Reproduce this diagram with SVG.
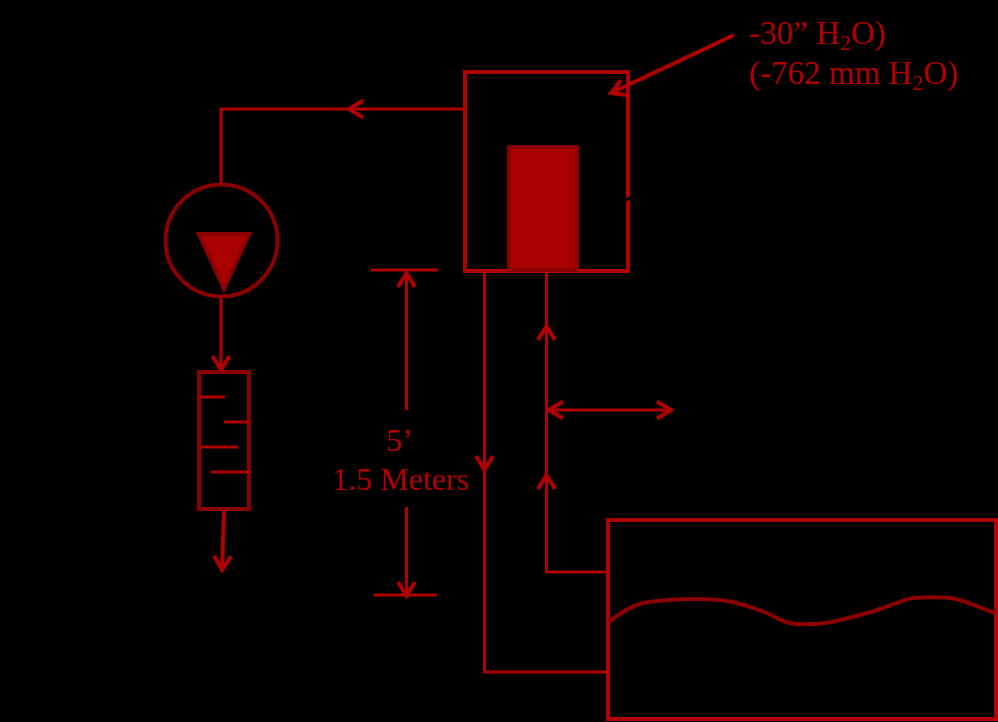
<svg xmlns="http://www.w3.org/2000/svg" width="998" height="722" viewBox="0 0 998 722">
<style>
.c{fill:none;stroke:#b00000;stroke-width:3}
.o{fill:none;stroke:#b00000;stroke-width:4}
.d{stroke:#8b0000;stroke-width:4}
.t{stroke:#b00000;stroke-width:3;fill:none}
text{font-family:"Liberation Serif","Times New Roman",serif;font-size:33px;fill:#b00000}
.m{font-size:32px}
.s{font-size:22px}
</style>
<defs>
<marker id="a" markerUnits="userSpaceOnUse" markerWidth="24" markerHeight="26" viewBox="-20 -13 24 26" refX="0" refY="0" orient="auto" overflow="visible">
<path d="M-15,-8.5 L-1,0 L-15,8.5" fill="none" stroke="#b00000" stroke-width="4"/>
</marker>
</defs>
<rect width="998" height="722" fill="#000"/>
<g id="connectors">
<path class="c" d="M464,109 L348,109" marker-end="url(#a)"/>
<path class="c" d="M348,109 L221,109 L221,184"/>
<path class="c" d="M221,298 L221,371" marker-end="url(#a)"/>
<path class="o" d="M224,510 L222,571" marker-end="url(#a)"/>
<path class="o" d="M734,35 L611,93 M621,80 L611,93 L626,95"/>
<path class="c" d="M484.500,271 L484.500,471" marker-end="url(#a)"/>
<path class="c" d="M484.500,471 L484.500,672 L608,672"/>
<path class="c" d="M608,572 L546.500,572 L546.500,474" marker-end="url(#a)"/>
<path class="c" d="M546.500,474 L546.500,325" marker-end="url(#a)"/>
<path class="c" d="M546.500,325 L546.500,271"/>
<path class="c" d="M609,410 L548,410" marker-end="url(#a)"/>
<path class="c" d="M609,410 L672,410" marker-end="url(#a)"/>
<path class="c" d="M406.500,410 L406.500,272" marker-end="url(#a)"/>
<path class="c" d="M406.500,507 L406.500,597" marker-end="url(#a)"/>
<path class="c" d="M371,270 L438,270"/>
<path class="c" d="M374,595 L437,595"/>
</g>
<g id="pump">
<circle cx="221.500" cy="240.500" r="56" fill="none" stroke="#8b0000" stroke-width="4"/>
<path d="M199,234 L249,234 L224,289 Z" fill="#aa0000" stroke="#8b0000" stroke-width="4"/>
</g>
<g id="flowmeter">
<rect x="199" y="372" width="50" height="137" fill="none" stroke="#8b0000" stroke-width="4"/>
<path class="t" d="M200,397 L225,397 M224,422 L249,422 M200,447 L238,447 M211,472 L249,472"/>
</g>
<g id="chamber">
<rect x="465" y="72" width="163" height="199" class="o"/>
<path d="M624,201 L632,197" stroke="#000" stroke-width="3" fill="none"/>
<rect x="509" y="147" width="68" height="123" fill="#aa0000" class="d"/>
</g>
<g id="recorder">
<rect x="608" y="520" width="388" height="199" class="o"/>
<path d="M609,622 C620,613 630,606 643,603 C660,600 680,599 697,599 C712,599 722,600 733,602 C745,605 757,609 767,613 C776,617 782,622 790,623 C798,625 806,624 813,624 C822,624 832,622 840,620 C852,617 866,614 877,610 C890,606 902,600 913,598 C925,597 940,597 950,598 C965,600 980,608 995,613" fill="none" stroke="#8b0000" stroke-width="4"/>
</g>
<g id="labels">
<text x="749" y="44">-30” H<tspan class="s" dy="6">2</tspan><tspan dy="-6">O)</tspan></text>
<text x="749" y="84">(-762 mm H<tspan class="s" dy="6">2</tspan><tspan dy="-6">O)</tspan></text>
<text class="m" x="386" y="451">5’</text>
<text class="m" x="332" y="490">1.5 Meters</text>
</g>
</svg>
